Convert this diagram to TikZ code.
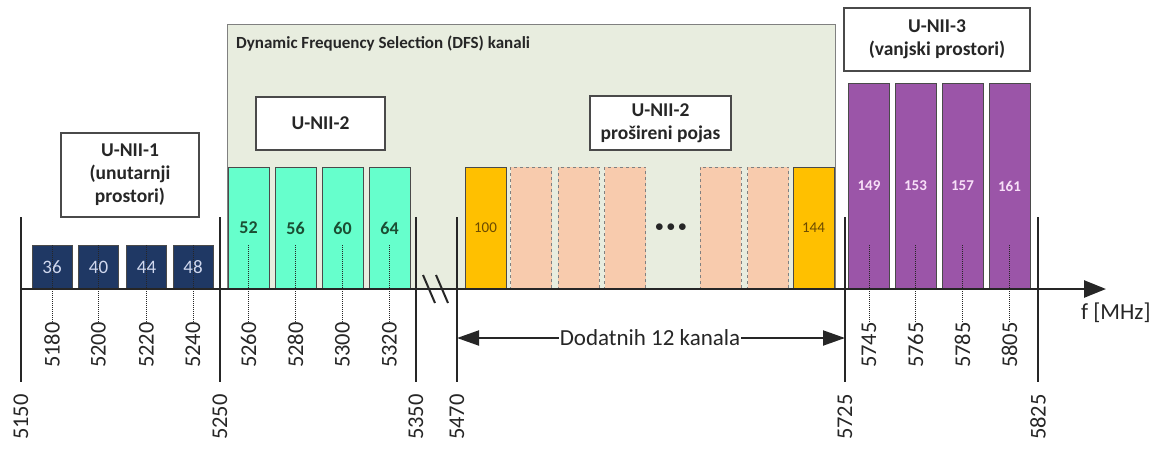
\documentclass[tikz,border=0pt]{standalone}
\usepackage{fontspec}
\setmainfont{Carlito}
\usetikzlibrary{arrows.meta}
\definecolor{navy}{HTML}{1F3864}
\definecolor{navytxt}{HTML}{D0D8EE}
\definecolor{teal2}{HTML}{66FFCC}
\definecolor{tealtxt}{HTML}{1B4E33}
\definecolor{orng}{HTML}{FFC000}
\definecolor{orngtxt}{HTML}{6B4A00}
\definecolor{peach}{HTML}{F8CBAD}
\definecolor{purp}{HTML}{9B55A8}
\definecolor{purptxt}{HTML}{F8E0F8}
\definecolor{dfsfill}{HTML}{E8EDDF}
\definecolor{edge}{HTML}{4A4A4A}
\definecolor{ink}{HTML}{262626}
\begin{document}
\begin{tikzpicture}[x=1pt,y=-1pt,
  chan/.style={draw=edge,line width=0.8pt,minimum width=41pt,inner sep=0pt,anchor=center},
  navych/.style={chan,fill=navy,text=navytxt,minimum height=44pt,font=\fontsize{19}{19}\selectfont},
  tealch/.style={chan,fill=teal2,text=tealtxt,minimum height=122pt,font=\bfseries\fontsize{18}{18}\selectfont},
  orngch/.style={chan,fill=orng,text=orngtxt,minimum height=122pt,font=\fontsize{15}{15}\selectfont},
  peachch/.style={draw=gray,dashed,line width=0.8pt,fill=peach,minimum width=41pt,minimum height=122pt,inner sep=0pt},
  purpch/.style={chan,fill=purp,text=purptxt,minimum height=206pt,font=\bfseries\fontsize{15}{15}\selectfont},
  labbox/.style={draw=edge,line width=1.4pt,fill=white,align=center,inner sep=0pt,font=\bfseries\fontsize{19.5}{23}\selectfont,text=ink},
  freq/.style={rotate=90,anchor=east,inner sep=0pt,text=ink,font=\fontsize{22.5}{22}\selectfont},
  ticklab/.style={rotate=90,anchor=east,inner sep=0pt,text=ink,font=\fontsize{22.5}{22}\selectfont},
  tickln/.style={draw=ink,line width=2.6pt},
  dotline/.style={draw=ink,line width=0.8pt,dash pattern=on 1pt off 1pt},
]
\useasboundingbox (0,0) rectangle (1159,448);

% DFS background
\node[draw=gray,line width=1.2pt,fill=dfsfill,minimum width=608pt,minimum height=265pt,inner sep=0pt,anchor=north west] (dfs) at (227,24) {};
\node[anchor=west,inner sep=0pt,text=ink,font=\bfseries\fontsize{17}{17}\selectfont] (dfst) at (236,44) {Dynamic Frequency Selection (DFS) kanali};

% label boxes
\node[labbox,minimum width=138pt,minimum height=84pt] (u1) at (130,175) {U-NII-1\\(unutarnji\\prostori)};
\node[labbox,minimum width=129pt,minimum height=53pt] (u2) at (320.5,123.5) {U-NII-2};
\node[labbox,minimum width=141pt,minimum height=54pt] (u2e) at (660.5,123) {U-NII-2\\prošireni pojas};
\node[labbox,minimum width=186pt,minimum height=63pt] (u3) at (937,39.5) {U-NII-3\\(vanjski prostori)};

% channel boxes
\node[navych,minimum width=40pt] (c36) at (52,267) {36};
\node[navych,minimum width=40pt] (c40) at (98.5,267) {40};
\node[navych,minimum width=40pt] (c44) at (146.5,267) {44};
\node[navych,minimum width=40pt] (c48) at (193,267) {48};

\node[tealch] (c52) at (248.5,228) {52};
\node[tealch] (c56) at (295.5,228) {56};
\node[tealch] (c60) at (342.5,228) {60};
\node[tealch] (c64) at (389.5,228) {64};

\node[orngch] (c100) at (485.5,228) {100};
\node[peachch] (p1) at (531,228) {};
\node[peachch] (p2) at (578.5,228) {};
\node[peachch] (p3) at (625,228) {};
\node[inner sep=0pt,font=\fontsize{17}{17}\selectfont,text=ink] (dots) at (671,228) {$\bullet\!\!\;\bullet\!\!\;\bullet$};
\node[peachch] (p4) at (720.5,228) {};
\node[peachch] (p5) at (768,228) {};
\node[orngch] (c144) at (813.5,228) {144};

\node[purpch] (c149) at (869,186) {149};
\node[purpch] (c153) at (915.5,186) {153};
\node[purpch] (c157) at (962.5,186) {157};
\node[purpch] (c161) at (1009.5,186) {161};

% axis
\coordinate (ax0) at (20,289);
\coordinate (ax1) at (1106,289);
\draw[draw=ink,line width=2.6pt,-{Triangle[length=22pt,width=17pt]}] (ax0) -- (ax1);
\node[anchor=west,inner sep=0pt,text=ink,font=\fontsize{23}{23}\selectfont] (fmhz) at (1081,313) {f [MHz]};

% break marks
\draw[draw=ink,line width=2pt] (423,275) -- (435,303);
\draw[draw=ink,line width=2pt] (436,275) -- (448,303);

% band-edge ticks
\foreach \n/\x in {5150/21,5250/220,5350/416,5470/457,5725/845,5825/1038}{
  \coordinate (a\n) at (\x,217);
  \node[ticklab] (t\n) at (\x,394) {\n};
  \draw[tickln] (a\n) -- (t\n.east |- 0,382);
}

% channel frequency labels with dotted guides
\foreach \n/\c in {5180/c36,5200/c40,5220/c44,5240/c48,5260/c52,5280/c56,5300/c60,5320/c64,5745/c149,5765/c153,5785/c157,5805/c161}{
  \node[freq] (f\n) at (\c.center |- 0,322) {\n};
  \draw[dotline] (f\n.east) -- (\c.center |- 0,245);
}

% Dodatnih 12 kanala
\node[fill=white,inner sep=1pt,text=ink,font=\fontsize{23}{23}\selectfont] (dod) at (650,338) {Dodatnih 12 kanala};
\draw[draw=ink,line width=2pt,-{Triangle[length=22pt,width=15pt]}] (dod.west) -- (a5470 |- dod.west);
\draw[draw=ink,line width=2pt,-{Triangle[length=22pt,width=15pt]}] (dod.east) -- (a5725 |- dod.east);
\end{tikzpicture}
\end{document}
